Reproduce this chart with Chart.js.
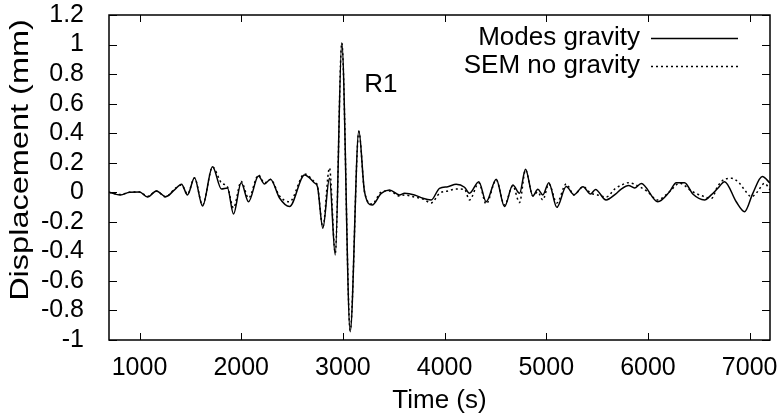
<!DOCTYPE html>
<html>
<head>
<meta charset="utf-8">
<script src="https://cdn.jsdelivr.net/npm/chart.js@4.4.0/dist/chart.umd.min.js"></script>
<style>
  html, body { margin: 0; padding: 0; background: #fff; }
  #wrap { width: 781px; height: 418px; }
</style>
</head>
<body>
<div id="wrap"><canvas id="seis"></canvas></div>
<script>
// series (time in s, displacement in mm)
const modesTime = [700, 813, 902, 1000, 1079, 1167, 1256, 1344, 1413, 1472, 1541, 1620, 1718, 1806, 1865, 1924,
  2000, 2072, 2170, 2229, 2288, 2377, 2475, 2623, 2721, 2750, 2803, 2868, 2925, 2989, 3072, 3157, 3213, 3288,
  3377, 3458, 3557, 3606, 3704, 3786, 3868, 3950, 4032, 4114, 4196, 4245, 4337, 4409, 4508, 4589, 4671, 4737,
  4796, 4868, 4917, 4966, 5025, 5104, 5196, 5273, 5361, 5435, 5484, 5588, 5681, 5737, 5809, 5868, 5934, 6097,
  6212, 6278, 6360, 6441, 6556, 6622, 6687, 6753, 6868, 6950, 7031, 7124, 7200];
const modesDisp = [0, -0.018, 0, 0.002, -0.032, 0.009, -0.03, 0.016, 0.054, -0.018, 0.099, -0.093, 0.173, 0.022, 0.029, -0.147,
  0.065, -0.064, 0.11, 0.056, 0.088, -0.039, -0.097, 0.117, 0.063, 0.038, -0.244, 0.095, -0.425, 1.013, -0.944, 0.417, 0.002, -0.086,
  -0.007, 0.016, -0.018, -0.007, -0.018, -0.041, -0.052, 0.027, 0.038, 0.054, 0.034, -0.007, 0.072, -0.064, 0.088, -0.097, 0.049, -0.007,
  0.156, -0.025, 0.02, -0.018, 0.065, -0.102, 0.039, -0.016, 0.038, -0.012, 0.019, -0.052, -0.012, 0.022, 0.046, 0.029, 0.06, -0.064,
  0.004, 0.065, 0.065, -0.012, -0.052, -0.018, 0.027, 0.072, -0.064, -0.131, -0.007, 0.106, 0.063];

const semTime = [700, 813, 902, 1000, 1079, 1167, 1256, 1344, 1413, 1472, 1541, 1620, 1718, 1806, 1865, 1924,
  2000, 2072, 2170, 2229, 2288, 2377, 2475, 2623, 2721, 2750, 2803, 2868, 2925, 2989, 3072, 3157, 3213, 3288,
  3377, 3458, 3557, 3606, 3704, 3786, 3868, 3950, 4032, 4114, 4196, 4245, 4337, 4409, 4508, 4589, 4671, 4737,
  4796, 4868, 4917, 4966, 5025, 5104, 5196, 5273, 5361, 5435, 5504, 5588, 5681, 5740, 5809, 5917, 5996, 6094,
  6212, 6310, 6438, 6556, 6625, 6684, 6753, 6822, 6900, 6950, 7018, 7077, 7146, 7200];
const semDisp = [0, -0.015, 0, 0.002, -0.028, 0.009, -0.032, 0.022, 0.049, -0.012, 0.097, -0.086, 0.171, 0.063, 0.036, -0.106,
  0.073, -0.039, 0.117, 0.063, 0.087, -0.025, -0.064, 0.124, 0.07, 0.043, -0.235, 0.165, -0.411, 1.01, -0.934, 0.41, 0.002, -0.079,
  0.002, 0.009, -0.025, -0.018, -0.032, -0.045, -0.072, -0.007, 0.009, 0.022, 0.02, -0.052, 0.063, -0.079, 0.083, -0.086, 0.043, -0.07,
  0.151, -0.025, 0.002, -0.052, 0.056, -0.072, 0.056, -0.018, 0.038, -0.005, -0.018, -0.032, 0.027, 0.049, 0.065, 0.038, 0.004, -0.052,
  0.004, 0.061, 0.004, -0.03, -0.041, 0.038, 0.088, 0.095, 0.061, 0.016, -0.03, 0.004, 0.061, 0.016];

const seriesNames = ['Modes gravity', 'SEM no gravity'];
const xTickValues = [1000, 2000, 3000, 4000, 5000, 6000, 7000];
const yTickValues = [-1, -0.8, -0.6, -0.4, -0.2, 0, 0.2, 0.4, 0.6, 0.8, 1, 1.2];
const peakLabel = { text: 'R1', x: 3210, y: 0.73 };
const yTitle = 'Displacement (mm)';

const FONT = 'Liberation Sans, Arial, Helvetica, sans-serif';
const FSIZE = 25;
const LSIZE = 26;

function toPoints(ts, vs) {
  return ts.map((t, i) => ({ x: t, y: vs[i] }));
}

function noPad(s) {
  s.paddingTop = 0; s.paddingBottom = 0; s.paddingLeft = 0; s.paddingRight = 0;
}

// box, inward ticks on all sides, key, y title and R1 label
const gnuplotLook = {
  id: 'gnuplotLook',
  afterDraw(chart) {
    const { ctx, chartArea: a, scales } = chart;
    ctx.save();
    ctx.strokeStyle = '#000';
    ctx.lineWidth = 1;
    ctx.beginPath();
    scales.x.ticks.forEach(t => {
      const px = Math.round(scales.x.getPixelForValue(t.value)) + 0.5;
      ctx.moveTo(px, a.bottom); ctx.lineTo(px, a.bottom - 7);
      ctx.moveTo(px, a.top); ctx.lineTo(px, a.top + 7);
    });
    scales.y.ticks.forEach(t => {
      const py = Math.round(scales.y.getPixelForValue(t.value)) + 0.5;
      ctx.moveTo(a.left, py); ctx.lineTo(a.left + 8, py);
      ctx.moveTo(a.right, py); ctx.lineTo(a.right - 8, py);
    });
    ctx.stroke();
    ctx.lineWidth = 1.5;
    ctx.strokeRect(a.left, a.top, a.right - a.left, a.bottom - a.top);

    // key
    ctx.font = LSIZE + 'px ' + FONT;
    ctx.fillStyle = '#000';
    ctx.textAlign = 'right';
    ctx.textBaseline = 'middle';
    chart.data.datasets.forEach((ds, i) => {
      const y = 38 + i * 28;
      ctx.fillText(ds.label, 640, y);
      ctx.beginPath();
      ctx.lineWidth = ds.borderWidth;
      ctx.setLineDash(ds.borderDash || []);
      ctx.moveTo(651, y + 0.5);
      ctx.lineTo(738, y + 0.5);
      ctx.stroke();
    });
    ctx.setLineDash([]);

    ctx.textAlign = 'left';
    ctx.fillText(peakLabel.text, scales.x.getPixelForValue(peakLabel.x), scales.y.getPixelForValue(peakLabel.y));

    // y title, stretched along its length like the original
    ctx.save();
    ctx.translate(21, 160);
    ctx.rotate(-Math.PI / 2);
    ctx.scale(1.25, 1);
    ctx.textAlign = 'center';
    ctx.fillText(yTitle, 0, 0);
    ctx.restore();
    ctx.restore();
  }
};

new Chart(document.getElementById('seis'), {
  type: 'line',
  data: {
    datasets: [{
      label: seriesNames[0],
      data: toPoints(modesTime, modesDisp),
      borderColor: '#000',
      borderWidth: 1.5,
      pointRadius: 0,
      cubicInterpolationMode: 'monotone',
      fill: false
    }, {
      label: seriesNames[1],
      data: toPoints(semTime, semDisp),
      borderColor: '#000',
      borderWidth: 1.5,
      borderDash: [2, 3],
      pointRadius: 0,
      cubicInterpolationMode: 'monotone',
      fill: false
    }]
  },
  options: {
    responsive: true,
    maintainAspectRatio: false,
    animation: false,
    layout: { padding: { left: 0, right: 11, top: 15, bottom: 0 } },
    plugins: {
      legend: { display: false },
      tooltip: { enabled: false }
    },
    scales: {
      x: {
        type: 'linear',
        min: 700,
        max: 7200,
        afterBuildTicks: s => { s.ticks = xTickValues.map(v => ({ value: v })); },
        afterFit: s => { s.height = 78; noPad(s); },
        grid: { display: false, drawTicks: false },
        border: { display: false },
        ticks: {
          color: '#000',
          font: { family: FONT, size: FSIZE },
          padding: 13,
          maxRotation: 0,
          autoSkip: false,
          callback: v => String(v)
        },
        title: {
          display: true,
          text: 'Time (s)',
          color: '#000',
          font: { family: FONT, size: LSIZE },
          padding: { top: 0, bottom: 2 }
        }
      },
      y: {
        min: -1,
        max: 1.2,
        afterBuildTicks: s => { s.ticks = yTickValues.map(v => ({ value: v })); },
        afterFit: s => { s.width = 109; noPad(s); },
        grid: { display: false, drawTicks: false },
        border: { display: false },
        ticks: {
          color: '#000',
          font: { family: FONT, size: FSIZE },
          padding: 25,
          autoSkip: false,
          callback: v => String(+v.toFixed(1))
        }
      }
    }
  },
  plugins: [gnuplotLook]
});
</script>
</body>
</html>
